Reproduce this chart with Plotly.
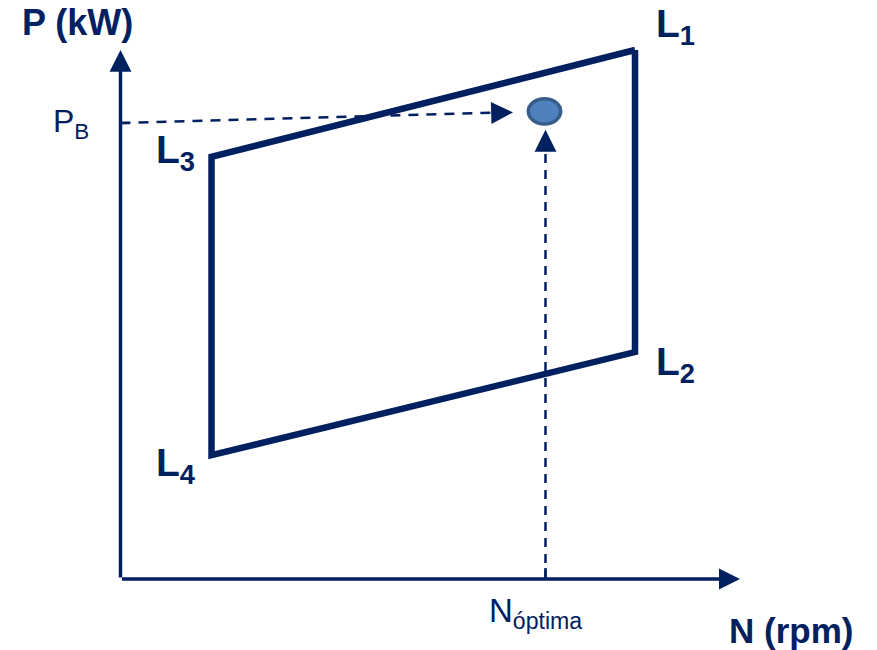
import plotly.graph_objects as go

NAVY = "#002060"
FONT = "Liberation Sans, Arial, sans-serif"

# ---------------- data ----------------
corner_labels = ["L<sub>1</sub>", "L<sub>2</sub>", "L<sub>4</sub>", "L<sub>3</sub>"]
corner_N = [83.05, 83.05, 14.69, 14.69]
corner_P = [100.0, 42.9, 23.4, 79.8]
axis_N_max = 100.0
axis_P_max = 100.0
P_B = 86.2
N_opt = 68.6
op_N = 68.44
op_P = 88.4
pb_tip_N, pb_tip_P = 63.36, 88.2
nopt_tip_P = 84.9
axis_titles = ["P (kW)", "N (rpm)"]
pb_label = "P<sub>B</sub>"
nopt_label = "N<sub>óptima</sub>"

# ---------------- layout geometry ----------------
W, H = 877, 650
PAGE_OFF = 8  # default body margin of the html page
dx = (122.11 - (-19.45)) / W   # data units per pixel (x)
dy = (109.45 - (-13.42)) / H   # data units per pixel (y)
x_range = [-19.45 + PAGE_OFF * dx, 122.11 + PAGE_OFF * dx]
y_range = [-13.42 - PAGE_OFF * dy, 109.45 - PAGE_OFF * dy]

fig = go.Figure()

# parallelogram
fig.add_trace(go.Scatter(
    x=corner_N + [corner_N[0]], y=corner_P + [corner_P[0]],
    mode="lines", line=dict(color=NAVY, width=6.5), hoverinfo="skip"))

# dashed guide lines
fig.add_trace(go.Scatter(
    x=[0, pb_tip_N - 8 * dx], y=[P_B, pb_tip_P], mode="lines",
    line=dict(color=NAVY, width=2.5, dash="10px,8px"), hoverinfo="skip"))
fig.add_trace(go.Scatter(
    x=[N_opt, N_opt], y=[0, nopt_tip_P - 8 * dy], mode="lines",
    line=dict(color=NAVY, width=2.5, dash="9px,7px"), hoverinfo="skip"))

# ticks
fig.add_trace(go.Scatter(
    x=[0, 9 * dx], y=[P_B, P_B], mode="lines",
    line=dict(color=NAVY, width=2.5), hoverinfo="skip"))
fig.add_trace(go.Scatter(
    x=[N_opt, N_opt], y=[0, 11 * dy], mode="lines",
    line=dict(color=NAVY, width=2.5), hoverinfo="skip"))

annotations = []
# axes with arrows
annotations.append(dict(x=0, y=axis_P_max, ax=0, ay=0, axref="x", ayref="y",
                        xref="x", yref="y", text="", showarrow=True,
                        arrowhead=2, arrowwidth=3.5, arrowsize=1.25, arrowcolor=NAVY))
annotations.append(dict(x=axis_N_max, y=0, ax=0, ay=0, axref="x", ayref="y",
                        xref="x", yref="y", text="", showarrow=True,
                        arrowhead=2, arrowwidth=3.5, arrowsize=1.2, arrowcolor=NAVY))
# arrow heads of dashed lines
annotations.append(dict(x=pb_tip_N, y=pb_tip_P, ax=-12, ay=0.3, xref="x", yref="y",
                        text="", showarrow=True, arrowhead=2, arrowwidth=2.5,
                        arrowsize=1.75, arrowcolor=NAVY))
annotations.append(dict(x=N_opt, y=nopt_tip_P, ax=0, ay=12, xref="x", yref="y",
                        text="", showarrow=True, arrowhead=2, arrowwidth=2.5,
                        arrowsize=1.75, arrowcolor=NAVY))

# corner labels
label_shift = {0: (19, 23.5), 1: (19, -12.5), 2: (-58, -10), 3: (-58, 4.5)}
for i, lab in enumerate(corner_labels):
    sx, sy = label_shift[i]
    annotations.append(dict(x=corner_N[i], y=corner_P[i], xref="x", yref="y",
                            text="<b>" + lab + "</b>", showarrow=False,
                            xanchor="left", yanchor="middle", xshift=sx, yshift=sy,
                            font=dict(family=FONT, size=39, color=NAVY)))

# axis titles
annotations.append(dict(x=0, y=axis_P_max, xref="x", yref="y", text="<b>" + axis_titles[0] + "</b>",
                        showarrow=False, xanchor="left", yanchor="middle",
                        xshift=-101, yshift=27, font=dict(family=FONT, size=36, color=NAVY)))
annotations.append(dict(x=axis_N_max, y=0, xref="x", yref="y", text="<b>" + axis_titles[1] + "</b>",
                        showarrow=False, xanchor="left", yanchor="middle",
                        xshift=-13, yshift=-51, font=dict(family=FONT, size=35, color=NAVY)))
annotations.append(dict(x=0, y=P_B, xref="x", yref="y", text=pb_label,
                        showarrow=False, xanchor="left", yanchor="middle",
                        xshift=-70, yshift=0, font=dict(family=FONT, size=32, color=NAVY)))
annotations.append(dict(x=N_opt, y=0, xref="x", yref="y", text=nopt_label,
                        showarrow=False, xanchor="left", yanchor="middle",
                        xshift=-58, yshift=-34, font=dict(family=FONT, size=33, color=NAVY)))

# operating point (ellipse)
rx, ry = 16.2 * dx, 12.7 * dy
shapes = [dict(type="circle", xref="x", yref="y",
               x0=op_N - rx, x1=op_N + rx, y0=op_P - ry, y1=op_P + ry,
               fillcolor="#4F81BD", line=dict(color="#385D8A", width=3.5), layer="above")]

fig.update_layout(
    width=W, height=H, margin=dict(l=0, r=0, t=0, b=0),
    paper_bgcolor="white", plot_bgcolor="white", showlegend=False,
    xaxis=dict(range=x_range, visible=False, fixedrange=True),
    yaxis=dict(range=y_range, visible=False, fixedrange=True),
    annotations=annotations, shapes=shapes,
)

fig.write_html("out.html")
